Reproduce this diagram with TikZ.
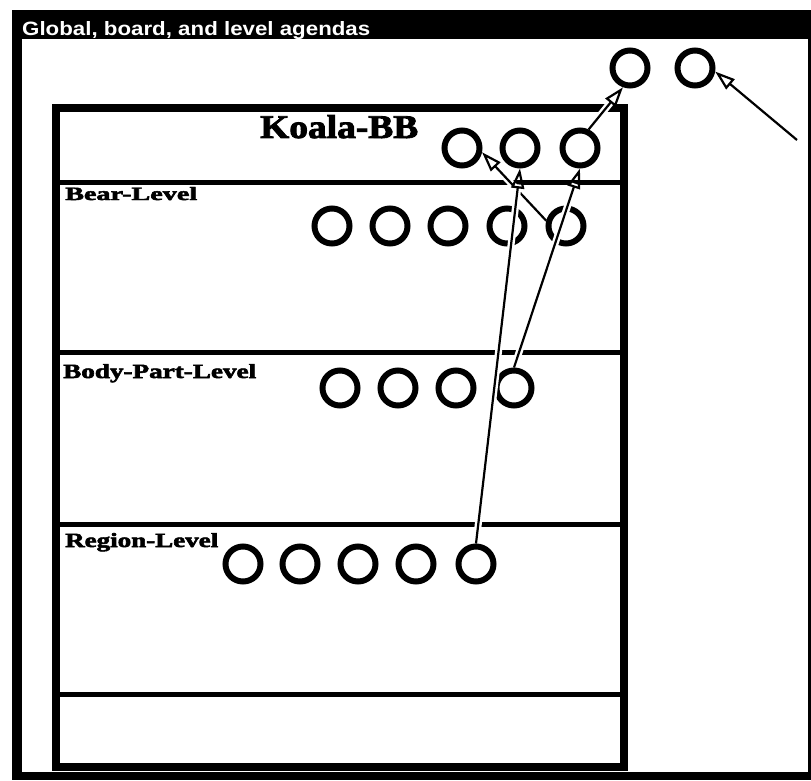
\documentclass[tikz,border=0pt]{standalone}
\usepackage{fontspec}
\setmainfont{Liberation Serif}
\newfontfamily\titlefont{Liberation Sans}
\newfontfamily\heavyfont{Liberation Serif}[BoldFeatures={FakeBold=2.5}]
\usetikzlibrary{arrows.meta}
\tikzset{
  agenda/.style={circle, draw=black, line width=6pt, minimum size=35pt, inner sep=0pt},
  lbl/.style={inner sep=0pt, anchor=base west},
  link/.style={line width=2.2pt, -{Triangle[open, length=20pt, width=13pt, line width=2.2pt]},
     preaction={draw=white, line width=7pt, -, shorten >=16pt, shorten <=2pt}},
  divider/.style={line width=5pt},
}
\begin{document}
\begin{tikzpicture}[x=1pt, y=-1pt]
\useasboundingbox (0,0) rectangle (811,781);
% window frame
\fill[black] (12,10) rectangle (811,780);
\fill[white] (22,39) rectangle (808,772);
\node[lbl, text=white] (title) at (22,36) {\resizebox{348pt}{14pt}{\titlefont\bfseries Global, board, and level agendas}};
% blackboard box
\draw[line width=8pt] (56,108) rectangle (624,767);
\draw[divider] (56,182) -- (624,182);
\draw[divider] (56,352) -- (624,352);
\draw[divider] (56,524) -- (624,524);
\draw[divider] (56,694) -- (624,694);
% labels
\node[lbl] (kbb) at (260,138) {\resizebox{158pt}{23pt}{\heavyfont\bfseries Koala-BB}};
\node[lbl] (bear) at (65,200) {\resizebox{132pt}{13pt}{\heavyfont\bfseries Bear-Level}};
\node[lbl] (body) at (63,378) {\resizebox{193pt}{14pt}{\heavyfont\bfseries Body-Part-Level}};
\node[lbl] (region) at (65,547) {\resizebox{153pt}{14pt}{\heavyfont\bfseries Region-Level}};
% global agenda
\node[agenda] (G1) at (630,68) {};
\node[agenda] (G2) at (695,68) {};
% board agenda
\node[agenda] (K1) at (462,148) {};
\node[agenda] (K2) at (520,148) {};
\node[agenda] (K3) at (580,148) {};
% bear level
\node[agenda] (B1) at (332,226) {};
\node[agenda] (B2) at (390,226) {};
\node[agenda] (B3) at (448,226) {};
\node[agenda] (B4) at (507,226) {};
\node[agenda] (B5) at (566,226) {};
% body-part level
\node[agenda] (D1) at (340,388) {};
\node[agenda] (D2) at (398,388) {};
\node[agenda] (D3) at (456,388) {};
\node[agenda] (D4) at (514,388) {};
% region level
\node[agenda] (R1) at (243,564) {};
\node[agenda] (R2) at (300,564) {};
\node[agenda] (R3) at (358,564) {};
\node[agenda] (R4) at (416,564) {};
\node[agenda] (R5) at (476,564) {};
% links
\coordinate (ext) at (797,140);
\draw[link] (ext) -- (G2.-10);
\draw[link] (K3.65) -- (G1.250);
\draw[link] (B5.165) -- (K1.-12);
\draw[link] (D4.north) -- (K3.south);
\draw[link] (R5.north) -- (K2.south);
\end{tikzpicture}
\end{document}
